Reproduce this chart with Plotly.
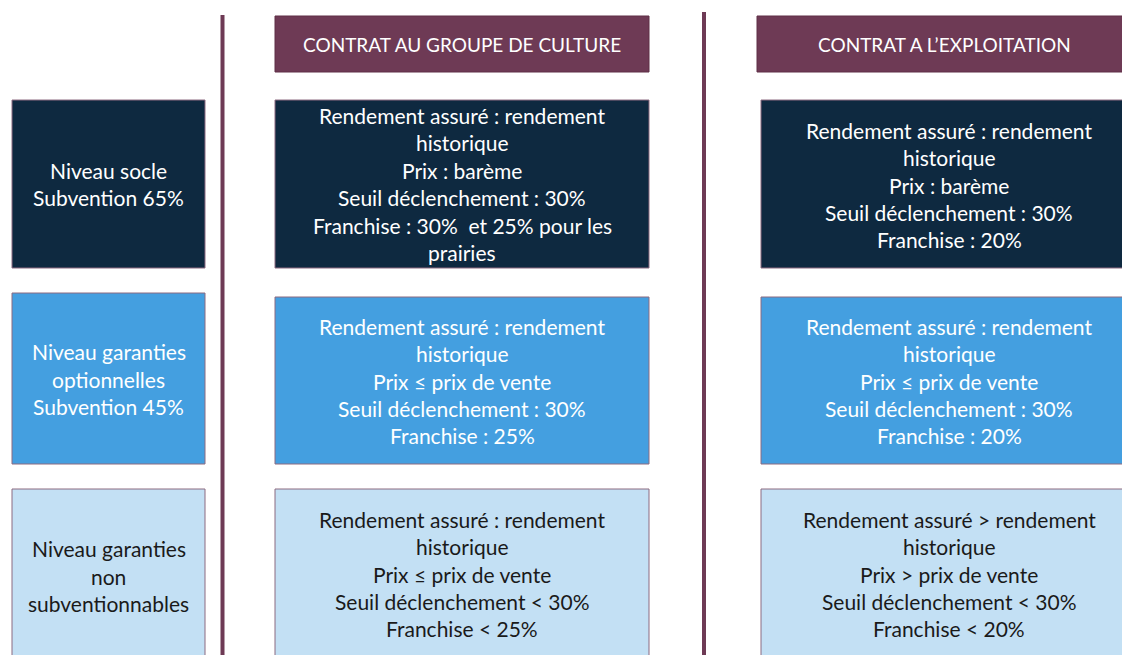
import plotly.graph_objects as go

# ---- content ----
headers = ["CONTRAT AU GROUPE DE CULTURE", "CONTRAT A L\u2019EXPLOITATION"]
levels = [
    ["Niveau socle", "Subvention 65%"],
    ["Niveau garanties", "optionnelles", "Subvention 45%"],
    ["Niveau garanties", "non", "subventionnables"],
]
groupe_culture = [
    ["Rendement assuré : rendement", "historique", "Prix : barème",
     "Seuil déclenchement : 30%", "Franchise : 30%  et 25% pour les", "prairies"],
    ["Rendement assuré : rendement", "historique", "Prix ≤ prix de vente",
     "Seuil déclenchement : 30%", "Franchise : 25%"],
    ["Rendement assuré : rendement", "historique", "Prix ≤ prix de vente",
     "Seuil déclenchement < 30%", "Franchise < 25%"],
]
exploitation = [
    ["Rendement assuré : rendement", "historique", "Prix : barème",
     "Seuil déclenchement : 30%", "Franchise : 20%"],
    ["Rendement assuré : rendement", "historique", "Prix ≤ prix de vente",
     "Seuil déclenchement : 30%", "Franchise : 20%"],
    ["Rendement assuré > rendement", "historique", "Prix > prix de vente",
     "Seuil déclenchement < 30%", "Franchise < 20%"],
]

# ---- styles ----
W, H = 1122, 655
PURPLE = "#6E3A55"
ROW_FILL = ["#0E2940", "#449FE0", "#C3E0F4"]
ROW_TEXT = ["#FFFFFF", "#FFFFFF", "#1A1A1A"]
BORDER = "#8C6A80"
FONT = "Lato"
FS = 21
HFS = 19
LINE_H = 27.4

# column x-extents, row y-extents (pixel layout)
col_x = [(12, 205), (275, 649), (761, 1137)]
col_text_x = [108.5, 462, 949]
row_y = {0: [(100, 268), (100, 268), (100, 268)],
         1: [(293, 464), (297, 464), (297, 464)],
         2: [(489, 668), (489, 668), (489, 668)]}
text_center = {0: [184, 184, 185], 1: [379, 381, 381], 2: [576, 574, 574]}

fig = go.Figure()
shapes = []
annotations = []


def add_lines(lines, xc, yc, color, size=FS):
    n = len(lines)
    for i, t in enumerate(lines):
        y = yc + (i - (n - 1) / 2) * LINE_H
        annotations.append(dict(x=xc, y=y, xref="x", yref="y", text=t,
                                showarrow=False, xanchor="center", yanchor="middle",
                                font=dict(family=FONT, size=size, color=color)))


# vertical separators
shapes.append(dict(type="line", x0=222.5, x1=222.5, y0=15, y1=660, xref="x", yref="y",
                   line=dict(color=PURPLE, width=4)))
shapes.append(dict(type="line", x0=704, x1=704, y0=12, y1=660, xref="x", yref="y",
                   line=dict(color=PURPLE, width=4)))

# headers
header_x = [(275, 649), (757, 1131)]
header_text_x = [462, 944]
for (x0, x1), hx, h in zip(header_x, header_text_x, headers):
    shapes.append(dict(type="rect", x0=x0, x1=x1, y0=16, y1=72, xref="x", yref="y",
                       fillcolor=PURPLE, line=dict(color="#5E2E47", width=1)))
    add_lines([h], hx, 44, "#FFFFFF", size=HFS)

# rows
columns = [levels, groupe_culture, exploitation]
for r in range(3):
    for c in range(3):
        x0, x1 = col_x[c]
        y0, y1 = row_y[r][c]
        shapes.append(dict(type="rect", x0=x0, x1=x1, y0=y0, y1=y1, xref="x", yref="y",
                           fillcolor=ROW_FILL[r], line=dict(color=BORDER, width=1)))
        add_lines(columns[c][r], col_text_x[c], text_center[r][c], ROW_TEXT[r])

fig.update_layout(
    width=W, height=H,
    margin=dict(l=0, r=0, t=0, b=0),
    paper_bgcolor="white", plot_bgcolor="white",
    xaxis=dict(range=[0, W], visible=False, fixedrange=True),
    yaxis=dict(range=[H, 0], visible=False, fixedrange=True),
    shapes=shapes, annotations=annotations, showlegend=False,
)
fig.write_html("out.html", config={"displayModeBar": False},
               post_script="document.body.style.margin='0';document.body.style.overflow='hidden';")
